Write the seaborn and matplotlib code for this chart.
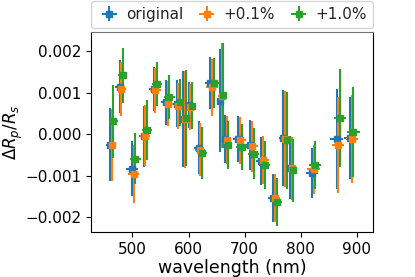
import numpy as np
import matplotlib
matplotlib.use("Agg")
import matplotlib.pyplot as plt
import seaborn as sns

# 波长 (nm) 与每个通道的半宽
wavelength = [460, 477, 499, 520, 538, 560, 579, 590, 600, 618, 639,
              656, 665, 689, 710, 730, 751, 769, 781, 820, 864, 888]
bin_halfwidth = [8, 8, 10, 9, 9, 9, 7, 6, 6, 9, 10,
                 6, 6, 10, 10, 10, 9, 7, 7, 11, 11, 11]

# 三组数据: ΔRp/Rs 及误差
dr_original = [-0.00025, 0.00115, -0.00083, -0.00005, 0.00109, 0.00077, 0.00074,
               0.00036, 0.00071, -0.00033, 0.00124, 0.00081, -0.00012, -0.00011,
               -0.00026, -0.00065, -0.00153, -0.00009, -0.00081, -0.00093,
               -0.00011, -0.00009]
dr_p01 = [-0.00026, 0.00110, -0.00095, -0.00003, 0.00106, 0.00074, 0.00069,
          0.00036, 0.00066, -0.00037, 0.00113, 0.00093, -0.00014, -0.00015,
          -0.00029, -0.00061, -0.00154, -0.00011, -0.00082, -0.00085,
          -0.00027, -0.00011]
dr_p10 = [0.00031, 0.00142, -0.00059, 0.00010, 0.00121, 0.00090, 0.00077,
          0.00039, 0.00069, -0.00045, 0.00123, 0.00094, -0.00025, -0.00031,
          -0.00047, -0.00075, -0.00163, -0.00015, -0.00087, -0.00075,
          0.00039, 0.00005]

err_original = [0.00088, 0.00064, 0.00066, 0.00074, 0.00054, 0.00054, 0.00056,
                0.00116, 0.00056, 0.00064, 0.00062, 0.00124, 0.00058, 0.00056,
                0.00060, 0.00058, 0.00058, 0.00116, 0.00076, 0.00060,
                0.00120, 0.00100]
err_p01 = [0.00087, 0.00065, 0.00070, 0.00074, 0.00055, 0.00055, 0.00056,
           0.00117, 0.00056, 0.00064, 0.00068, 0.00127, 0.00058, 0.00057,
           0.00062, 0.00058, 0.00058, 0.00116, 0.00076, 0.00060,
           0.00116, 0.00106]
err_p10 = [0.00088, 0.00066, 0.00062, 0.00073, 0.00053, 0.00054, 0.00056,
           0.00116, 0.00057, 0.00063, 0.00060, 0.00126, 0.00058, 0.00056,
           0.00062, 0.00058, 0.00058, 0.00116, 0.00076, 0.00058,
           0.00118, 0.00108]

labels = ['original', '+0.1%', '+1.0%']
x_shift = [0, 3, 6]

sns.set_style("ticks")
plt.rcParams['font.family'] = ['DejaVu Sans']
palette = sns.color_palette("tab10", 3)

fig = plt.figure(figsize=(4.15, 2.77), dpi=100)
ax = fig.add_axes([0.2193, 0.1625, 0.6795, 0.722])

series = [(dr_original, err_original), (dr_p01, err_p01), (dr_p10, err_p10)]
for (vals, errs), lab, dx, col in zip(series, labels, x_shift, palette):
    ax.errorbar(np.array(wavelength) + dx, vals, yerr=errs, xerr=bin_halfwidth,
                fmt='s', markersize=5, color=col, label=lab, capsize=0)

ax.set_xlim(426, 929)
ax.set_ylim(-0.00236, 0.00247)
ax.set_xticks([500, 600, 700, 800, 900])
ax.set_yticks([-0.002, -0.001, 0.0, 0.001, 0.002])
ax.set_yticklabels(['\u22120.002', '\u22120.001', '0.000', '0.001', '0.002'])
ax.tick_params(labelsize=11, colors='black')
for sp in ax.spines.values():
    sp.set_color('black')
ax.spines['top'].set_color('0.45')
ax.set_xlabel('wavelength (nm)', fontsize=12.5, color='black', labelpad=2)
ax.set_ylabel(r'$\Delta R_p/R_s$', fontsize=12, color='black')
ax.yaxis.set_label_coords(-0.235, 0.5)

ax.legend(loc='lower left', bbox_to_anchor=(0, 1.02, 1, 0.2), ncol=3,
          mode='expand', borderaxespad=0, fontsize=11,
          handletextpad=0.3, handlelength=1.6)

fig.savefig('out.png', dpi=100)
